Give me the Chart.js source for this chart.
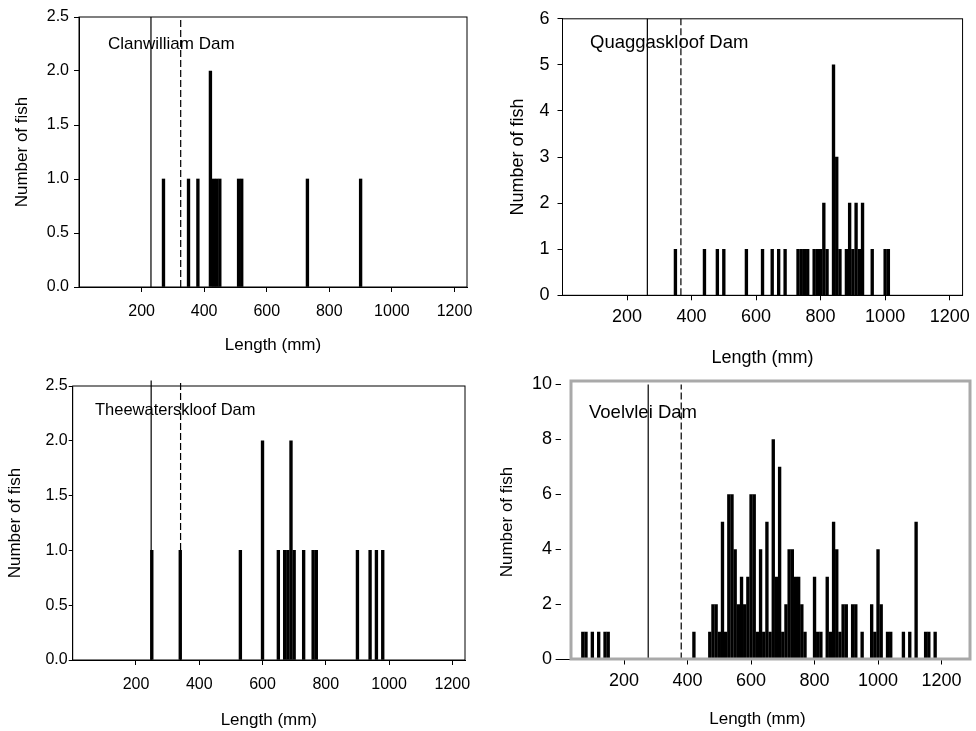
<!DOCTYPE html>
<html>
<head>
<meta charset="utf-8">
<script src="https://cdn.jsdelivr.net/npm/chart.js@4.4.1/dist/chart.umd.min.js"></script>
<style>
  html, body { margin: 0; padding: 0; background: #fff; }
  #wrap { position: relative; width: 976px; height: 731px; overflow: hidden; }
  canvas { position: absolute; }
</style>
</head>
<body>
<div id="wrap">
  <canvas id="clan" width="488" height="365" style="left:0;top:0"></canvas>
  <canvas id="quag" width="488" height="375" style="left:488px;top:0"></canvas>
  <canvas id="thee" width="488" height="366" style="left:0;top:365px"></canvas>
  <canvas id="voel" width="488" height="366" style="left:488px;top:365px"></canvas>
</div>
<script>
// shared x ticks (length, mm)
const xTicks = [200, 400, 600, 800, 1000, 1200];

// Clanwilliam Dam
const clanLength = [270, 350, 380, 420, 430, 440, 450, 510, 520, 730, 900];
const clanCount  = [1, 1, 1, 2, 1, 1, 1, 1, 1, 1, 1];
const clanMarks  = [230, 325];           // solid, dashed
const clanYTicks = [0, 0.5, 1, 1.5, 2, 2.5];

// Quaggaskloof Dam
const quagLength = [350, 440, 480, 500, 570, 620, 650, 670, 690, 730, 740, 750, 760, 780, 790,
                    800, 810, 820, 840, 850, 860, 880, 890, 900, 910, 920, 930, 960, 1000, 1010];
const quagCount  = [1, 1, 1, 1, 1, 1, 1, 1, 1, 1, 1, 1, 1, 1, 1,
                    1, 2, 1, 5, 3, 1, 1, 2, 1, 2, 1, 2, 1, 1, 1];
const quagMarks  = [263, 367];
const quagYTicks = [0, 1, 2, 3, 4, 5, 6];

// Theewaterskloof Dam
const theeLength = [250, 340, 530, 600, 650, 670, 680, 690, 700, 730, 760, 770, 900, 940, 960, 980];
const theeCount  = [1, 1, 1, 2, 1, 1, 1, 2, 1, 1, 1, 1, 1, 1, 1, 1];
const theeMarks  = [248, 341];
const theeYTicks = [0, 0.5, 1, 1.5, 2, 2.5];

// Voelvlei Dam
const voelLength = [70, 80, 100, 120, 140, 150, 420,
                    470, 480, 490, 500, 510, 520, 530, 540, 550, 560, 570, 580, 590, 600, 610,
                    620, 630, 640, 650, 660, 670, 680, 690, 700, 710, 720, 730, 740, 750, 760, 770,
                    800, 810, 820, 840, 850, 860, 870, 880, 890, 900, 920, 930, 950,
                    980, 990, 1000, 1010, 1030, 1040, 1080, 1100, 1120, 1150, 1160, 1180];
const voelCount  = [1, 1, 1, 1, 1, 1, 1,
                    1, 2, 2, 1, 5, 1, 6, 6, 4, 2, 3, 2, 3, 6, 6,
                    1, 4, 1, 5, 1, 8, 3, 7, 1, 2, 4, 4, 3, 3, 2, 1,
                    3, 1, 1, 3, 1, 5, 4, 1, 2, 2, 2, 2, 1,
                    2, 1, 4, 2, 1, 1, 1, 1, 5, 1, 1, 1];
const voelMarks  = [276, 380];
const voelYTicks = [0, 2, 4, 6, 8, 10];

const FONT = '"Liberation Sans", Arial, sans-serif';
Chart.defaults.font.family = FONT;
Chart.defaults.color = '#000';

// frame + dam name drawn on top
const panelDeco = {
    id: 'panelDeco',
    afterDraw(chart, args, opts) {
        const { ctx, chartArea: a } = chart;
        ctx.save();
        if (opts.box) {
            ctx.strokeStyle = '#000';
            ctx.lineWidth = 1;
            ctx.strokeRect(a.left, a.top, a.right - a.left, a.bottom - a.top);
        }
        if (opts.gray) {
            const g = opts.gray;
            ctx.strokeStyle = '#a9a9a9';
            ctx.lineWidth = 3;
            ctx.strokeRect(a.left + g.l, a.top + g.t, (a.right + g.r) - (a.left + g.l), (a.bottom + g.b) - (a.top + g.t));
        }
        ctx.font = opts.size + 'px ' + FONT;
        ctx.fillStyle = '#000';
        ctx.textBaseline = 'middle';
        ctx.textAlign = 'left';
        ctx.fillText(opts.text, a.left + opts.dx, a.top + opts.dy);
        ctx.restore();
    }
};

function makePanel(id, p) {
    const bars = p.lengths.map((v, i) => ({ x: v, y: p.counts[i] }));
    const lineTop = p.lineTop || p.yMax;
    new Chart(document.getElementById(id), {
        type: 'bar',
        data: {
            datasets: [
                {
                    data: bars,
                    backgroundColor: '#000',
                    borderWidth: 0,
                    barThickness: 2.7
                },
                {
                    type: 'line',
                    data: [{ x: p.marks[0], y: 0 }, { x: p.marks[0], y: lineTop }],
                    borderColor: '#000',
                    borderWidth: 1.2,
                    pointRadius: 0,
                    clip: false
                },
                {
                    type: 'line',
                    data: [{ x: p.marks[1], y: 0 }, { x: p.marks[1], y: lineTop }],
                    borderColor: '#000',
                    borderWidth: 1.2,
                    borderDash: [7, 3],
                    pointRadius: 0,
                    clip: false
                }
            ]
        },
        options: {
            responsive: false,
            animation: false,
            devicePixelRatio: 1,
            layout: { padding: { left: 0, top: p.top, right: p.right, bottom: 0 } },
            plugins: {
                legend: { display: false },
                tooltip: { enabled: false },
                panelDeco: { text: p.label, dx: p.dx, dy: p.dy, size: p.labelSize, box: p.box, gray: p.gray }
            },
            scales: {
                x: {
                    type: 'linear',
                    min: 0,
                    max: 1240,
                    offset: false,
                    afterBuildTicks: s => { s.ticks = xTicks.map(v => ({ value: v })); },
                    afterFit: s => { s.height = p.xh; },
                    grid: { display: true, drawOnChartArea: false, drawTicks: true, tickLength: 5, color: '#000', offset: false },
                    border: { display: true, color: '#000', width: 1 },
                    ticks: {
                        font: { size: p.tickSize }, color: '#000', padding: p.xPad, maxRotation: 0, autoSkip: false,
                        callback: v => String(v)
                    },
                    title: { display: true, text: 'Length (mm)', font: { size: p.titleSize }, color: '#000', padding: { top: 0, bottom: p.xTitlePad } }
                },
                y: {
                    min: 0,
                    max: p.yMax,
                    afterBuildTicks: s => { s.ticks = p.yTicks.map(v => ({ value: v })); },
                    afterFit: s => { s.width = p.yw; },
                    grid: { display: true, drawOnChartArea: false, drawTicks: true, tickLength: p.yTick || 5, color: '#000' },
                    border: { display: p.yBorder !== false, color: '#000', width: 1 },
                    ticks: {
                        font: { size: p.tickSize }, color: '#000', padding: p.yPad, autoSkip: false,
                        callback: v => p.decimals ? v.toFixed(1) : String(v)
                    },
                    title: { display: true, text: 'Number of fish', font: { size: p.titleSize }, color: '#000', padding: { top: p.yTitlePad, bottom: 0 } }
                }
            }
        },
        plugins: [panelDeco]
    });
}

makePanel('clan', {
    lengths: clanLength, counts: clanCount, marks: clanMarks, yMax: 2.5, yTicks: clanYTicks, decimals: true,
    label: 'Clanwilliam Dam', dx: 29, dy: 27, labelSize: 17, box: true,
    top: 17, right: 21, xh: 78, yw: 79,
    tickSize: 16, titleSize: 17, xPad: 10, yPad: 5, xTitlePad: 9, yTitlePad: 12
});

makePanel('quag', {
    lengths: quagLength, counts: quagCount, marks: quagMarks, yMax: 6, yTicks: quagYTicks, decimals: false,
    label: 'Quaggaskloof Dam', dx: 27.5, dy: 23.7, labelSize: 18.5, box: true,
    top: 15.3, right: 10, xh: 79.7, yw: 74.5,
    tickSize: 18, titleSize: 18, xPad: 6, yPad: 8, xTitlePad: 6, yTitlePad: 19
});

makePanel('thee', {
    lengths: theeLength, counts: theeCount, marks: theeMarks, yMax: 2.5, yTicks: theeYTicks, decimals: true,
    lineTop: 2.55,
    label: 'Theewaterskloof Dam', dx: 22.3, dy: 24.7, labelSize: 16.5, box: true,
    top: 21, right: 23, xh: 71, yw: 72.7,
    tickSize: 16, titleSize: 17, xPad: 10, yPad: 1, yTick: 4, xTitlePad: 0, yTitlePad: 5
});

makePanel('voel', {
    lengths: voelLength, counts: voelCount, marks: voelMarks, yMax: 10, yTicks: voelYTicks, decimals: false,
    label: 'Voelvlei Dam', dx: 28.4, dy: 28.5, labelSize: 18.5, box: false, yBorder: false,
    gray: { l: 10.4, t: -3.5, r: 15.8, b: -0.5 },
    top: 19.5, right: 21.8, xh: 71.5, yw: 72.6,
    tickSize: 18, titleSize: 17, xPad: 6, yPad: 3.5, xTitlePad: 1, yTitlePad: 9
});
</script>
</body>
</html>
